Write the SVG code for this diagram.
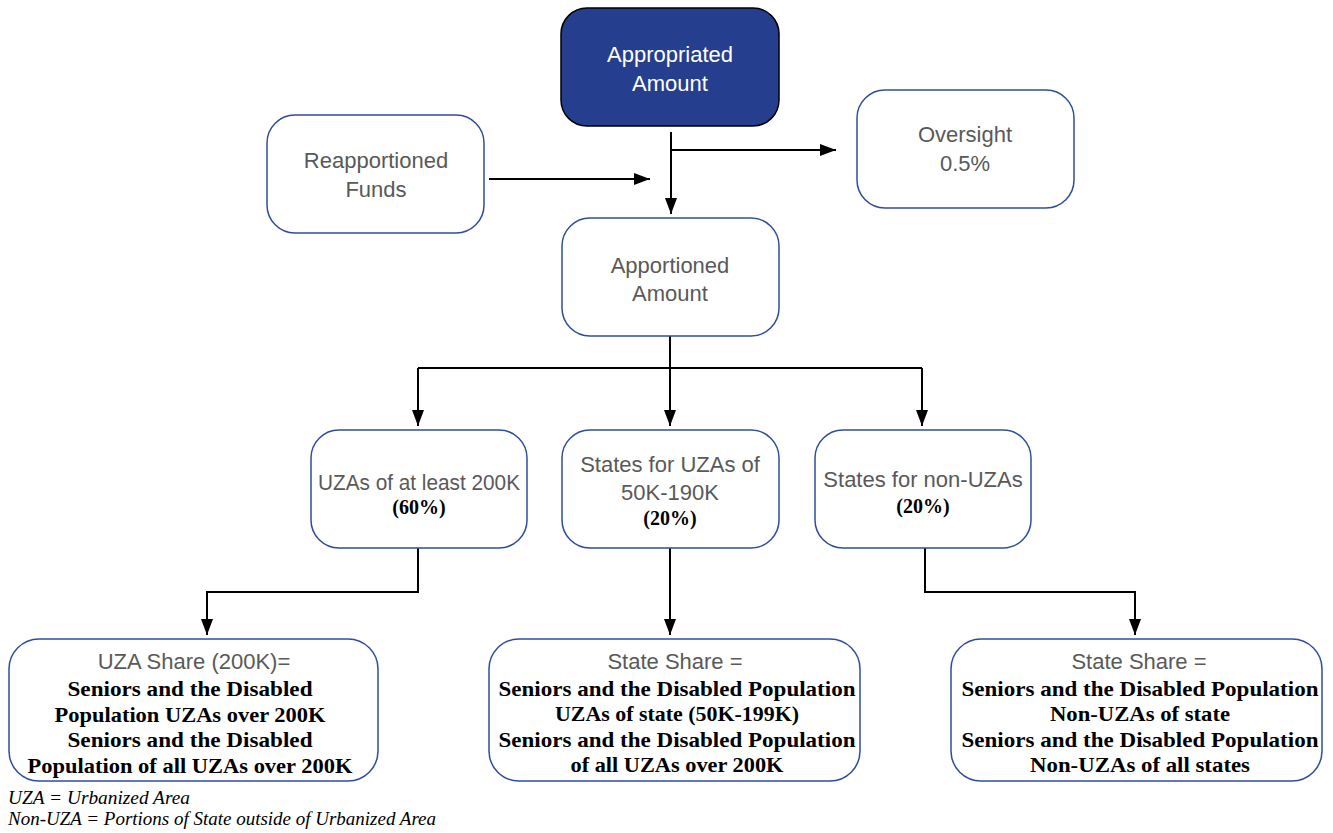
<svg xmlns="http://www.w3.org/2000/svg" width="1333" height="833" viewBox="0 0 1333 833">
<defs>
<marker id="ah" viewBox="0 0 16 12" refX="16" refY="6" markerWidth="16" markerHeight="12" markerUnits="userSpaceOnUse" orient="auto">
<path d="M0,0 L16,6 L0,12 Z" fill="#000"/>
</marker>
<style>
.box{fill:#fff;stroke:#2F4D9E;stroke-width:1.5}
.dark{fill:#253F8E;stroke:#000;stroke-width:1.5}
.t{font-family:"Liberation Sans",Arial,sans-serif;font-size:22px;fill:#595959;text-anchor:middle}
.tw{font-family:"Liberation Sans",Arial,sans-serif;font-size:22px;fill:#fff;text-anchor:middle}
.p{font-family:"Liberation Serif","Times New Roman",serif;font-size:20px;font-weight:bold;fill:#000;text-anchor:middle}
.b{font-family:"Liberation Serif","Times New Roman",serif;font-size:21px;font-weight:bold;fill:#000;text-anchor:middle}
.fn{font-family:"Liberation Serif","Times New Roman",serif;font-size:18px;font-style:italic;fill:#000}
.c{fill:none;stroke:#000;stroke-width:2}
</style>
</defs>
<g id="connectors">
<path class="c" d="M671,132 V214" marker-end="url(#ah)"/>
<path class="c" d="M671,150 H836" marker-end="url(#ah)"/>
<path class="c" d="M489,179 H650" marker-end="url(#ah)"/>
<path class="c" d="M670,336 V368"/>
<path class="c" d="M418,368 H922"/>
<path class="c" d="M418,368 V426" marker-end="url(#ah)"/>
<path class="c" d="M670,368 V426" marker-end="url(#ah)"/>
<path class="c" d="M922,368 V426" marker-end="url(#ah)"/>
<path class="c" d="M418,548 V592 H207 V635" marker-end="url(#ah)"/>
<path class="c" d="M670,548 V635" marker-end="url(#ah)"/>
<path class="c" d="M925,548 V592 H1135 V635" marker-end="url(#ah)"/>
</g>
<g id="appropriated">
<rect class="dark" x="561" y="8" width="218" height="118" rx="26"/>
<text class="tw" x="670" y="62">Appropriated</text>
<text class="tw" x="670" y="91">Amount</text>
</g>
<g id="reapportioned">
<rect class="box" x="267" y="115" width="217" height="118" rx="28"/>
<text class="t" x="376" y="168">Reapportioned</text>
<text class="t" x="376" y="197">Funds</text>
</g>
<g id="oversight">
<rect class="box" x="857" y="90" width="217" height="118" rx="28"/>
<text class="t" x="965" y="142">Oversight</text>
<text class="t" x="965" y="171">0.5%</text>
</g>
<g id="apportioned">
<rect class="box" x="562" y="218" width="217" height="118" rx="28"/>
<text class="t" x="670" y="273">Apportioned</text>
<text class="t" x="670" y="301">Amount</text>
</g>
<g id="uzas200k">
<rect class="box" x="311" y="430" width="216" height="118" rx="28"/>
<text class="t" x="419" y="490" textLength="202" lengthAdjust="spacingAndGlyphs">UZAs of at least 200K</text>
<text class="p" x="419" y="514">(60%)</text>
</g>
<g id="states50k">
<rect class="box" x="562" y="430" width="217" height="118" rx="28"/>
<text class="t" x="670" y="472">States for UZAs of</text>
<text class="t" x="670" y="500">50K-190K</text>
<text class="p" x="670" y="525">(20%)</text>
</g>
<g id="statesnonuza">
<rect class="box" x="815" y="430" width="216" height="118" rx="28"/>
<text class="t" x="923" y="487">States for non-UZAs</text>
<text class="p" x="923" y="513">(20%)</text>
</g>
<g id="uzashare">
<rect class="box" x="9" y="639" width="369" height="142" rx="30"/>
<text class="t" x="194" y="669">UZA Share (200K)=</text>
<text class="b" x="190" y="696" textLength="245" lengthAdjust="spacingAndGlyphs">Seniors and the Disabled</text>
<text class="b" x="190" y="722" textLength="271" lengthAdjust="spacingAndGlyphs">Population UZAs over 200K</text>
<text class="b" x="190" y="747" textLength="245" lengthAdjust="spacingAndGlyphs">Seniors and the Disabled</text>
<text class="b" x="190" y="773" textLength="325" lengthAdjust="spacingAndGlyphs">Population of all UZAs over 200K</text>
</g>
<g id="stateshare1">
<rect class="box" x="489" y="639" width="371" height="142" rx="30"/>
<text class="t" x="675" y="669">State Share =</text>
<text class="b" x="677" y="696" textLength="357" lengthAdjust="spacingAndGlyphs">Seniors and the Disabled Population</text>
<text class="b" x="677" y="721" textLength="244" lengthAdjust="spacingAndGlyphs">UZAs of state (50K-199K)</text>
<text class="b" x="677" y="747" textLength="357" lengthAdjust="spacingAndGlyphs">Seniors and the Disabled Population</text>
<text class="b" x="677" y="772" textLength="213" lengthAdjust="spacingAndGlyphs">of all UZAs over 200K</text>
</g>
<g id="stateshare2">
<rect class="box" x="951" y="639" width="371" height="142" rx="30"/>
<text class="t" x="1139" y="669">State Share =</text>
<text class="b" x="1140" y="696" textLength="357" lengthAdjust="spacingAndGlyphs">Seniors and the Disabled Population</text>
<text class="b" x="1140" y="721" textLength="180" lengthAdjust="spacingAndGlyphs">Non-UZAs of state</text>
<text class="b" x="1140" y="747" textLength="357" lengthAdjust="spacingAndGlyphs">Seniors and the Disabled Population</text>
<text class="b" x="1140" y="772" textLength="220" lengthAdjust="spacingAndGlyphs">Non-UZAs of all states</text>
</g>
<g id="footnotes">
<text class="fn" x="8" y="804" textLength="182" lengthAdjust="spacingAndGlyphs">UZA = Urbanized Area</text>
<text class="fn" x="8" y="825" textLength="428" lengthAdjust="spacingAndGlyphs">Non-UZA = Portions of State outside of Urbanized Area</text>
</g>
</svg>
